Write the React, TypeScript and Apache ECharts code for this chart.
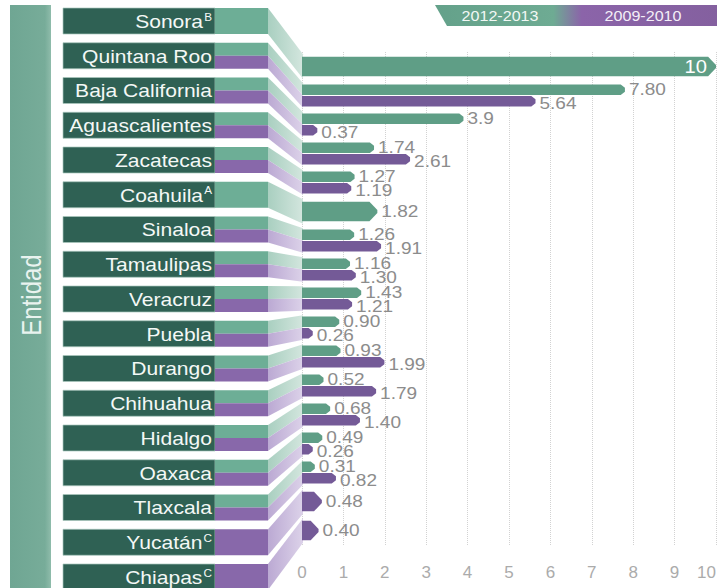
import React, { useEffect, useRef } from "react";
import * as echarts from "echarts";

const states = ["Sonora", "Quintana Roo", "Baja California", "Aguascalientes", "Zacatecas", "Coahuila", "Sinaloa", "Tamaulipas", "Veracruz", "Puebla", "Durango", "Chihuahua", "Hidalgo", "Oaxaca", "Tlaxcala", "Yucatán", "Chiapas"];
const notes = ["B", "", "", "", "", "A", "", "", "", "", "", "", "", "", "", "C", "C"];
const seriesNames = ["2012-2013", "2009-2010"];
const values2012: (number | null)[] = [10, 7.8, 3.9, 1.74, 1.27, 1.82, 1.26, 1.16, 1.43, 0.9, 0.93, 0.52, 0.68, 0.49, 0.31, null, null];
const values2009: (number | null)[] = [null, 5.64, 0.37, 2.61, 1.19, null, 1.91, 1.3, 1.21, 0.26, 1.99, 1.79, 1.4, 0.26, 0.82, 0.48, 0.4];
const labels2012: (string | null)[] = ["10", "7.80", "3.9", "1.74", "1.27", "1.82", "1.26", "1.16", "1.43", "0.90", "0.93", "0.52", "0.68", "0.49", "0.31", null, null];
const labels2009: (string | null)[] = [null, "5.64", "0.37", "2.61", "1.19", null, "1.91", "1.30", "1.21", "0.26", "1.99", "1.79", "1.40", "0.26", "0.82", "0.48", "0.40"];
const axisMax = 10;
const axisStep = 1;

const FONT = "'Liberation Sans', Arial, sans-serif";
const GREEN_BAR = "#5f9e86";
const PURPLE_BAR = "#745a97";
const DARK = "#2f6154";
const STRIPE_G = "#6dae96";
const STRIPE_P = "#8868aa";

const LABEL_TOP = 8;
const LABEL_STEP = 34.75;
const LABEL_H = 26;
const BOX_X = 63;
const STRIPE_X = 215;
const CONN_X = 268;

function barShape(x0: number, x1: number, y0: number, y1: number, fill: string, pointed: boolean) {
  const h = y1 - y0;
  const len = Math.max(x1 - x0, 0.5);
  const tip = Math.min(h * 0.4, len);
  const f = pointed ? 0.42 : 0.3;
  return {
    type: "polygon",
    shape: {
      points: [
        [x0, y0],
        [x1 - tip, y0],
        [x1, y0 + h * f],
        [x1, y1 - h * f],
        [x1 - tip, y1],
        [x0, y1],
      ],
    },
    style: { fill },
  };
}

function valueText(x: number, y: number, text: string) {
  return {
    type: "text",
    x,
    y,
    scaleX: 1.12,
    z2: 5,
    style: {
      text,
      x: 0,
      y: 0,
      align: "left",
      verticalAlign: "middle",
      fill: "#8c8c8c",
      fontSize: 17,
      fontFamily: FONT,
    },
  };
}

export default function App() {
  const ref = useRef<HTMLDivElement>(null);

  useEffect(() => {
    document.body.style.margin = "0";
    if (!ref.current) return;
    const chart = echarts.init(ref.current, undefined, { renderer: "svg" });

    const data = states.map((_, i) => [i, values2012[i] ?? "-", values2009[i] ?? "-"]);

    const renderBars = (params: any, api: any) => {
      const idx = params.dataIndex;
      const g = api.value(1);
      const p = api.value(2);
      const base = api.coord([0, idx]);
      const x0 = base[0];
      const cy = base[1];
      const band = api.size([0, 1])[1];
      const children: any[] = [];
      const hasG = typeof g === "number" && !isNaN(g);
      const hasP = typeof p === "number" && !isNaN(p);
      if (hasG && hasP) {
        const h = band * 0.36;
        const gx = api.coord([g, idx])[0];
        const px = api.coord([p, idx])[0];
        children.push(barShape(x0, gx, cy - h - 0.5, cy - 0.5, GREEN_BAR, false));
        children.push(barShape(x0, px, cy + 0.5, cy + h + 0.5, PURPLE_BAR, false));
        children.push(valueText(gx + 4, cy - h / 2 - 1, labels2012[idx] as string));
        children.push(valueText(px + 4, cy + h / 2 + 2.5, labels2009[idx] as string));
      } else if (hasG || hasP) {
        const v = hasG ? g : p;
        const h = band * 0.68;
        const vx = api.coord([v, idx])[0];
        children.push(barShape(x0, vx, cy - h / 2, cy + h / 2, hasG ? GREEN_BAR : PURPLE_BAR, true));
        const lab = (hasG ? labels2012[idx] : labels2009[idx]) as string;
        if (v >= axisMax) {
          children.push({
            type: "text",
            x: vx - 9,
            y: cy,
            scaleX: 1.12,
            z2: 5,
            style: {
              text: lab,
              x: 0,
              y: 0,
              align: "right",
              verticalAlign: "middle",
              fill: "#ffffff",
              fontSize: 18,
              fontFamily: FONT,
            },
          });
        } else {
          children.push(valueText(vx + 4, cy, lab));
        }
      }
      return { type: "group", children };
    };

    const renderLabels = (params: any, api: any) => {
      const idx = params.dataIndex;
      const g = api.value(1);
      const p = api.value(2);
      const hasG = typeof g === "number" && !isNaN(g);
      const hasP = typeof p === "number" && !isNaN(p);
      const base = api.coord([0, idx]);
      const x0 = base[0];
      const cy = base[1];
      const band = api.size([0, 1])[1];
      const top = LABEL_TOP + idx * LABEL_STEP;
      const bot = top + LABEL_H;
      const mid = (top + bot) / 2;
      const bt = cy - band * 0.42;
      const bb = cy + band * 0.42;
      const children: any[] = [];
      children.push({
        type: "rect",
        shape: { x: BOX_X, y: top, width: STRIPE_X - BOX_X, height: LABEL_H },
        style: { fill: DARK, stroke: "rgba(170,200,190,0.7)", lineWidth: 1 },
      });
      const gGrad = new echarts.graphic.LinearGradient(0, 0, 1, 0, [
        { offset: 0, color: "#a9cfc0" },
        { offset: 1, color: "#d3e6de" },
      ]);
      const pGrad = new echarts.graphic.LinearGradient(0, 0, 1, 0, [
        { offset: 0, color: "#bba9d3" },
        { offset: 1, color: "#dcd2e9" },
      ]);
      if (hasG && hasP) {
        children.push({ type: "rect", shape: { x: STRIPE_X, y: top, width: CONN_X - STRIPE_X, height: LABEL_H / 2 }, style: { fill: STRIPE_G } });
        children.push({ type: "rect", shape: { x: STRIPE_X, y: mid, width: CONN_X - STRIPE_X, height: LABEL_H / 2 }, style: { fill: STRIPE_P } });
        children.push({ type: "polygon", shape: { points: [[CONN_X, top], [x0 + 1, bt], [x0 + 1, cy], [CONN_X, mid]] }, style: { fill: gGrad } });
        children.push({ type: "polygon", shape: { points: [[CONN_X, mid], [x0 + 1, cy], [x0 + 1, bb], [CONN_X, bot]] }, style: { fill: pGrad } });
      } else {
        const c = hasG ? STRIPE_G : STRIPE_P;
        children.push({ type: "rect", shape: { x: STRIPE_X, y: top, width: CONN_X - STRIPE_X, height: LABEL_H }, style: { fill: c } });
        children.push({ type: "polygon", shape: { points: [[CONN_X, top], [x0 + 1, bt], [x0 + 1, bb], [CONN_X, bot]] }, style: { fill: hasG ? gGrad : pGrad } });
      }
      const note = notes[idx];
      children.push({
        type: "text",
        x: STRIPE_X - 3,
        y: mid + 0.5,
        scaleX: 1.17,
        z2: 5,
        style: {
          text: note ? `{n|${states[idx]}}{s|${note}}` : `{n|${states[idx]}}`,
          x: 0,
          y: 0,
          align: "right",
          verticalAlign: "middle",
          fill: "#ffffff",
          fontSize: 18,
          fontFamily: FONT,
          rich: {
            n: { fontSize: 18, fontFamily: FONT, fill: "#f4f8f6", color: "#f4f8f6" },
            s: { fontSize: 10, fontFamily: FONT, fill: "#f4f8f6", color: "#f4f8f6", padding: [0, 0, 9, 1] },
          },
        },
      });
      return { type: "group", children };
    };

    const option: any = {
      animation: false,
      backgroundColor: "#ffffff",
      grid: { left: 302, right: 3, top: 52, bottom: 43, outerBoundsMode: "none" },
      xAxis: {
        type: "value",
        min: 0,
        max: axisMax,
        interval: axisStep,
        axisLine: { show: false },
        axisTick: { show: false },
        splitLine: { show: true, lineStyle: { type: "dotted", color: "#d2d2d2" } },
        axisLabel: { color: "#ababab", fontSize: 17, fontFamily: FONT, margin: 19, alignMaxLabel: "right" },
      },
      yAxis: { type: "category", data: states, inverse: true, show: false },
      series: [
        {
          type: "custom",
          name: "labels",
          z: 2,
          clip: false,
          silent: true,
          encode: { x: [1, 2], y: 0 },
          renderItem: renderLabels,
          data,
        },
        {
          type: "custom",
          name: "bars",
          z: 3,
          clip: false,
          encode: { x: [1, 2], y: 0 },
          renderItem: renderBars,
          data,
        },
      ],
      graphic: [
        {
          type: "rect",
          shape: { x: 10, y: 5, width: 41, height: 583 },
          style: {
            fill: new echarts.graphic.LinearGradient(0, 0, 1, 0, [
              { offset: 0, color: "#6fa693" },
              { offset: 0.85, color: "#77ac99" },
              { offset: 1, color: "#8fbcab" },
            ]),
          },
        },
        {
          type: "text",
          x: 31,
          y: 295,
          rotation: Math.PI / 2,
          scaleY: 1.15,
          style: {
            text: "Entidad",
            x: 0,
            y: 0,
            align: "center",
            verticalAlign: "middle",
            fill: "#e9f3ef",
            fontSize: 24,
            fontFamily: FONT,
          },
        },
        {
          type: "polygon",
          shape: { points: [[435, 5], [717, 5], [717, 26], [447, 26]] },
          style: {
            fill: new echarts.graphic.LinearGradient(0, 0, 1, 0, [
              { offset: 0, color: "#64a18a" },
              { offset: 0.42, color: "#6eab93" },
              { offset: 0.52, color: "#8b64a9" },
              { offset: 1, color: "#84609f" },
            ]),
          },
        },
        {
          type: "text",
          x: 500,
          y: 16,
          scaleX: 1.15,
          style: { text: seriesNames[0], x: 0, y: 0, align: "center", verticalAlign: "middle", fill: "#f2f8f5", fontSize: 14, fontFamily: FONT },
        },
        {
          type: "text",
          x: 643,
          y: 16,
          scaleX: 1.15,
          style: { text: seriesNames[1], x: 0, y: 0, align: "center", verticalAlign: "middle", fill: "#f4eff8", fontSize: 14, fontFamily: FONT },
        },
      ],
    };

    chart.setOption(option);
    return () => chart.dispose();
  }, []);

  return <div ref={ref} style={{ width: 719, height: 588 }} />;
}
